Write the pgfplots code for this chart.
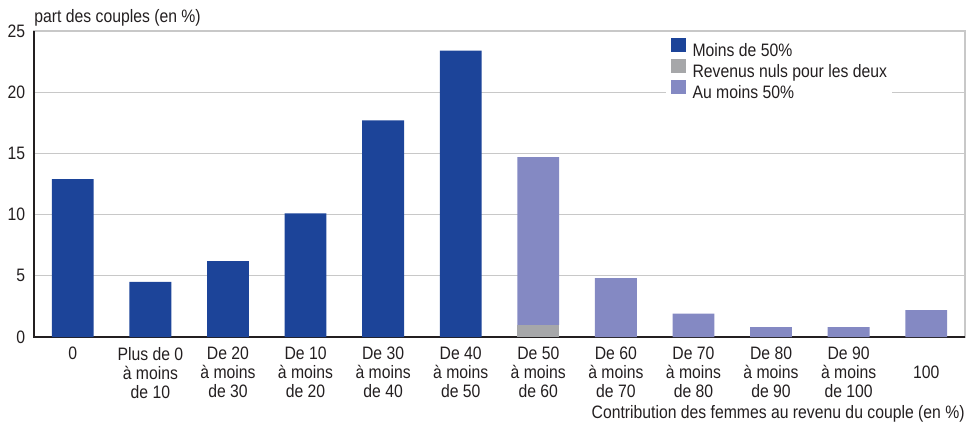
\documentclass[border=0pt]{standalone}
\usepackage{fontspec}
\setmainfont{Liberation Sans}[FakeStretch=0.875]
\usepackage{pgfplots}
\pgfplotsset{compat=1.18}
\definecolor{cblue}{HTML}{1C4499}
\definecolor{cgray}{HTML}{A6A7A9}
\definecolor{cpurple}{HTML}{8489C3}
\definecolor{cgrid}{HTML}{C8C8C8}
\definecolor{ctext}{HTML}{231F20}
\pgfplotsset{sqlegend/.style={legend image code/.code={\fill[##1] (0bp,-0.25bp) rectangle (7.5bp,6.75bp);}}}
\begin{document}
\begin{tikzpicture}[font=\fontsize{9bp}{9.5bp}\selectfont, text=ctext]
\begin{axis}[
  scale only axis, width=465.5bp, height=153bp,
  clip=false,
  ybar stacked, bar width=0.54,
  xmin=-0.5, xmax=11.5, ymin=0, ymax=25,
  xtick={0,...,11},
  xticklabels={0, {Plus de 0\\à moins\\de 10}, {De 20\\à moins\\de 30}, {De 10\\à moins\\de 20}, {De 30\\à moins\\de 40}, {De 40\\à moins\\de 50}, {De 50\\à moins\\de 60}, {De 60\\à moins\\de 70}, {De 70\\à moins\\de 80}, {De 80\\à moins\\de 90}, {De 90\\à moins\\de 100}, {\vphantom{D}\\100}},
  ytick={0,5,10,15,20,25},
  major tick length=0pt,
  ymajorgrids, grid style={cgrid, line width=0.6bp},
  axis line style={cgrid, line width=0.6bp},
  xticklabel style={align=center, anchor=north, inner sep=0pt, yshift=-4.85bp, text=ctext},
  yticklabel style={anchor=east, inner sep=0pt, xshift=-4.25bp, text=ctext},
  /pgf/number format/assume math mode=true,
  legend cell align=left,
  legend style={draw=none, fill=white, inner xsep=2.5bp, inner ysep=1.5bp,
    at={(rel axis cs:0.678,1)}, anchor=north west, yshift=-2bp,
    nodes={inner sep=0pt, text height=6.5bp, text depth=1.5bp, text=ctext},
    row sep=-0.25bp,
    /tikz/every odd column/.append style={column sep=3.5bp}},
]
\addplot[fill=cblue, draw=none, sqlegend]
  coordinates {(0,12.9) (1,4.5) (2,6.2) (3,10.1) (4,17.7) (5,23.4) (6,0) (7,0) (8,0) (9,0) (10,0) (11,0)};
\addlegendentry{Moins de 50\%}
\addplot[fill=cgray, draw=none, sqlegend]
  coordinates {(0,0) (1,0) (2,0) (3,0) (4,0) (5,0) (6,1.0) (7,0) (8,0) (9,0) (10,0) (11,0)};
\addlegendentry{Revenus nuls pour les deux}
\addplot[fill=cpurple, draw=none, sqlegend]
  coordinates {(0,0) (1,0) (2,0) (3,0) (4,0) (5,0) (6,13.7) (7,4.8) (8,1.9) (9,0.8) (10,0.8) (11,2.2)};
\addlegendentry{Au moins 50\%}
\draw[ctext, line width=1bp] (rel axis cs:0,1) -- (rel axis cs:0,0) -- (rel axis cs:1,0);
\node[anchor=base west, inner sep=0pt, yshift=4.5bp] at (rel axis cs:0,1) {part des couples (en \%)};
\node[anchor=base east, inner sep=0pt, yshift=-40.5bp] at (rel axis cs:1,0) {Contribution des femmes au revenu du couple (en \%)};
\end{axis}
\path ([shift={(-17bp,-43bp)}]current axis.south west) rectangle ([shift={(4.5bp,15.5bp)}]current axis.north east);
\end{tikzpicture}
\end{document}
